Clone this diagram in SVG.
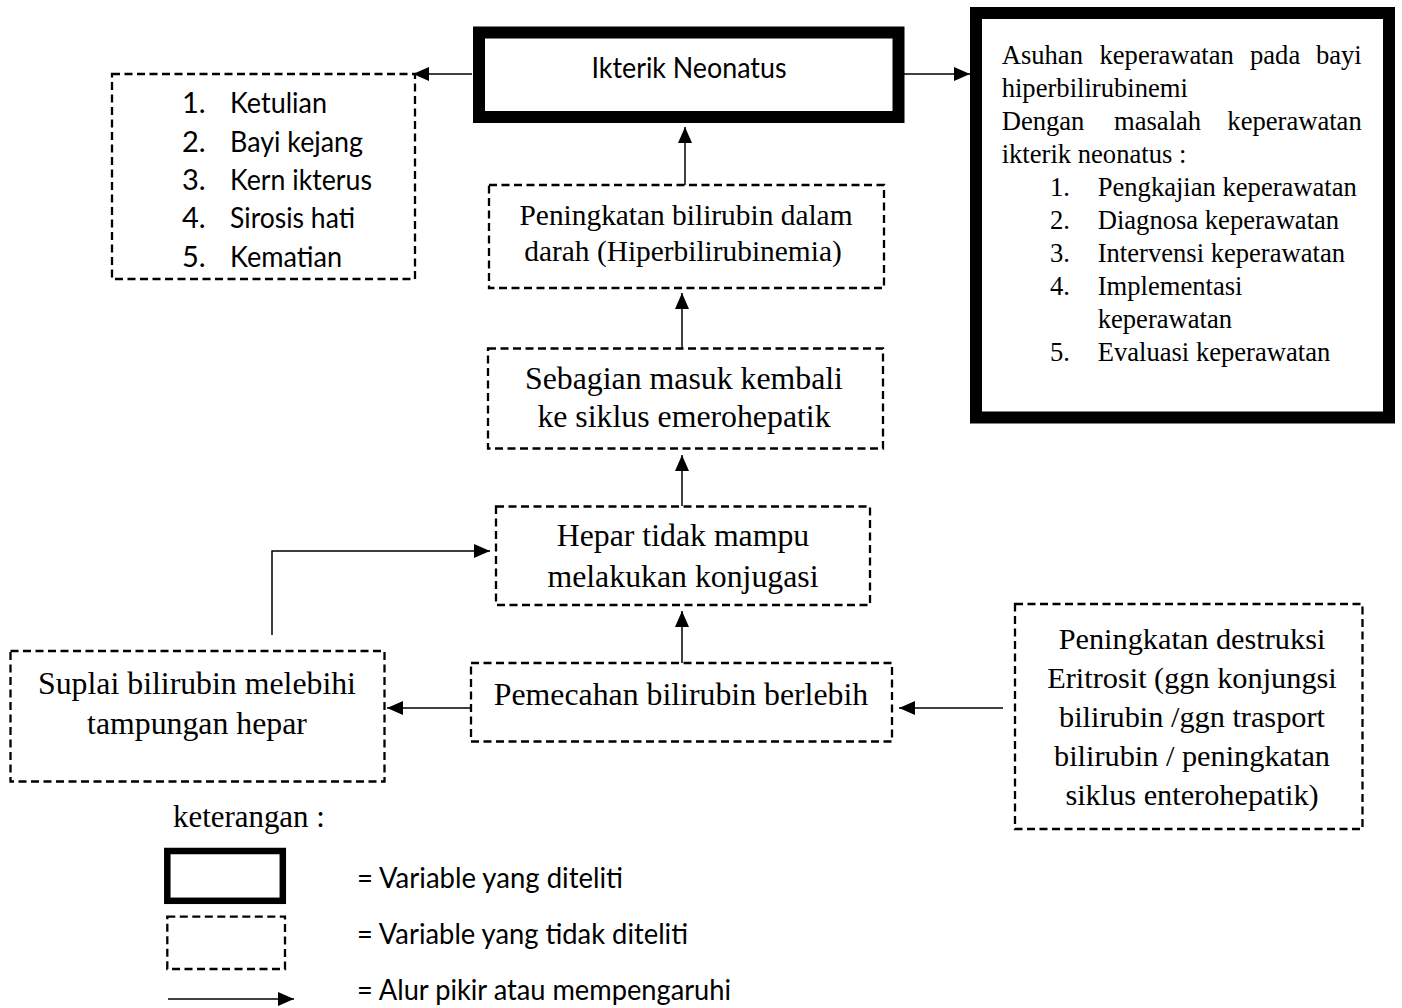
<svg xmlns="http://www.w3.org/2000/svg" width="1402" height="1008" viewBox="0 0 1402 1008">
<style>
.bg{fill:#fff}
.thick{fill:#fff;stroke:#000;stroke-width:12}
.dash{fill:#fff;stroke:#000;stroke-width:2.3;stroke-dasharray:8 4.5}
.con{fill:none;stroke:#000;stroke-width:1.5}
.sans{font-family:Lato,"Liberation Sans",sans-serif;font-size:29px;fill:#000}
.serif{font-family:"Liberation Serif","Times New Roman",serif;fill:#000}
.c{text-anchor:middle}
.s32{font-size:31.8px}
.s30{font-size:30.3px}
.s295{font-size:29.4px}
.s26{font-size:26.6px}
</style>
<defs>
<marker id="ah" markerUnits="userSpaceOnUse" markerWidth="16" markerHeight="14" refX="16" refY="7" orient="auto">
<path d="M0,0 L16,7 L0,14 z" fill="#000"/>
</marker>
</defs>
<rect class="bg" x="0" y="0" width="1402" height="1008"/>

<g id="connectors">
<line class="con" x1="685" y1="185" x2="685" y2="127" marker-end="url(#ah)"/>
<line class="con" x1="682" y1="348" x2="682" y2="293" marker-end="url(#ah)"/>
<line class="con" x1="682" y1="506" x2="682" y2="455" marker-end="url(#ah)"/>
<line class="con" x1="682" y1="663" x2="682" y2="611" marker-end="url(#ah)"/>
<line class="con" x1="471" y1="708" x2="387" y2="708" marker-end="url(#ah)"/>
<line class="con" x1="1003" y1="708" x2="899" y2="708" marker-end="url(#ah)"/>
<polyline class="con" points="272,635 272,551 490,551" marker-end="url(#ah)"/>
<line class="con" x1="472" y1="74" x2="413" y2="74" marker-end="url(#ah)"/>
<line class="con" x1="904" y1="74" x2="970" y2="74" marker-end="url(#ah)"/>
</g>

<g id="ikterik">
<rect class="thick" x="479" y="32.5" width="419.5" height="84.5"/>
<text class="sans c" x="689" y="78" textLength="195" lengthAdjust="spacingAndGlyphs">Ikterik Neonatus</text>
</g>

<g id="komplikasi">
<rect class="dash" x="112" y="74" width="303" height="205"/>
<text class="sans" x="182" y="113.3">1.</text>
<text class="sans" x="230" y="113.3" textLength="97" lengthAdjust="spacingAndGlyphs">Ketulian</text>
<text class="sans" x="182" y="151.7">2.</text>
<text class="sans" x="230" y="151.7" textLength="133" lengthAdjust="spacingAndGlyphs">Bayi kejang</text>
<text class="sans" x="182" y="190">3.</text>
<text class="sans" x="230" y="190" textLength="142" lengthAdjust="spacingAndGlyphs">Kern ikterus</text>
<text class="sans" x="182" y="228.3">4.</text>
<text class="sans" x="230" y="228.3" textLength="125" lengthAdjust="spacingAndGlyphs">Sirosis hati</text>
<text class="sans" x="182" y="266.7">5.</text>
<text class="sans" x="230" y="266.7" textLength="112" lengthAdjust="spacingAndGlyphs">Kematian</text>
</g>

<g id="asuhan">
<rect class="thick" x="976" y="13" width="413" height="404.5"/>
<g class="serif s26">
<text x="1001.7" y="64">Asuhan</text>
<text x="1099.5" y="64">keperawatan</text>
<text x="1250" y="64">pada</text>
<text x="1361.7" y="64" text-anchor="end">bayi</text>
<text x="1001.7" y="97">hiperbilirubinemi</text>
<text x="1001.7" y="130">Dengan</text>
<text x="1114" y="130">masalah</text>
<text x="1361.7" y="130" text-anchor="end">keperawatan</text>
<text x="1001.7" y="163">ikterik neonatus :</text>
<text x="1050" y="196">1.</text>
<text x="1097.7" y="196">Pengkajian keperawatan</text>
<text x="1050" y="229">2.</text>
<text x="1097.7" y="229">Diagnosa keperawatan</text>
<text x="1050" y="262">3.</text>
<text x="1097.7" y="262">Intervensi keperawatan</text>
<text x="1050" y="295">4.</text>
<text x="1097.7" y="295">Implementasi</text>
<text x="1097.7" y="328">keperawatan</text>
<text x="1050" y="361">5.</text>
<text x="1097.7" y="361">Evaluasi keperawatan</text>
</g>
</g>

<g id="hiperbilirubinemia">
<rect class="dash" x="489" y="185" width="395" height="103"/>
<text class="serif s295 c" x="686" y="225">Peningkatan bilirubin dalam</text>
<text class="serif s295 c" x="683" y="261">darah (Hiperbilirubinemia)</text>
</g>

<g id="sebagian">
<rect class="dash" x="488" y="348.5" width="395" height="100"/>
<text class="serif s32 c" x="684" y="389">Sebagian masuk kembali</text>
<text class="serif s32 c" x="684" y="427">ke siklus emerohepatik</text>
</g>

<g id="hepar">
<rect class="dash" x="496" y="506.5" width="374" height="98.5"/>
<text class="serif s32 c" x="683" y="546">Hepar tidak mampu</text>
<text class="serif s32 c" x="683" y="586.5">melakukan konjugasi</text>
</g>

<g id="pemecahan">
<rect class="dash" x="471" y="663" width="421" height="78.5"/>
<text class="serif s32 c" x="681" y="705">Pemecahan bilirubin berlebih</text>
</g>

<g id="suplai">
<rect class="dash" x="10.5" y="651" width="374" height="130.5"/>
<text class="serif s32 c" x="197" y="694">Suplai bilirubin melebihi</text>
<text class="serif s32 c" x="197" y="734">tampungan hepar</text>
</g>

<g id="destruksi">
<rect class="dash" x="1015" y="604" width="347.5" height="225"/>
<text class="serif s30 c" x="1192" y="649">Peningkatan destruksi</text>
<text class="serif s30 c" x="1192" y="688">Eritrosit (ggn konjungsi</text>
<text class="serif s30 c" x="1192" y="727">bilirubin /ggn trasport</text>
<text class="serif s30 c" x="1192" y="766">bilirubin / peningkatan</text>
<text class="serif s30 c" x="1192" y="805">siklus enterohepatik)</text>
</g>

<g id="legend">
<text class="serif" x="173" y="827" style="font-size:30.9px">keterangan :</text>
<rect x="167.3" y="851" width="115.5" height="49.8" fill="#fff" stroke="#000" stroke-width="6.5"/>
<rect class="dash" x="167.3" y="916.7" width="117.7" height="52.3"/>
<line class="con" x1="168" y1="999" x2="294" y2="999" marker-end="url(#ah)"/>
<text class="sans" x="357" y="888" textLength="266" lengthAdjust="spacingAndGlyphs">= Variable yang diteliti</text>
<text class="sans" x="357" y="944" textLength="331" lengthAdjust="spacingAndGlyphs">= Variable yang tidak diteliti</text>
<text class="sans" x="357" y="1000" textLength="374" lengthAdjust="spacingAndGlyphs">= Alur pikir atau mempengaruhi</text>
</g>
</svg>
